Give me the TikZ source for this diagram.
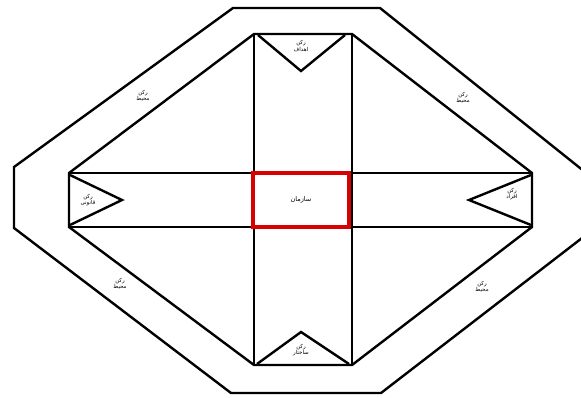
\documentclass[tikz,border=0pt]{standalone}
\usepackage{fontspec}
\newfontfamily\arabicfont[Script=Arabic]{DejaVu Sans}
\TeXXeTstate=1
\tikzset{
  edge/.style={line width=2.4pt, line join=miter},
  lbl/.style={font=\arabicfont\fontsize{5.5}{6.5}\selectfont, align=center, inner sep=0pt},
  centerbox/.style={draw=red!85!black, line width=3.6pt, fill=white}
}
\begin{document}
\begin{tikzpicture}[x=1pt,y=-1pt]
\useasboundingbox (0,0) rectangle (581,397);
\clip (0,0) rectangle (581,397);
% outer octagon
\coordinate (o1) at (233,8);
\coordinate (o2) at (380,8);
\coordinate (o3) at (595,180);
\coordinate (o4) at (595,228);
\coordinate (o5) at (381,393);
\coordinate (o6) at (231,393);
\coordinate (o7) at (14,228);
\coordinate (o8) at (14,167);
\draw[edge] (o1) -- (o2) -- (o3) -- (o4) -- (o5) -- (o6) -- (o7) -- (o8) -- cycle;
% inner cross corners
\coordinate (vtl) at (254,34);
\coordinate (vtr) at (352,34);
\coordinate (vbl) at (254,365);
\coordinate (vbr) at (352,365);
\coordinate (htl) at (69,173);
\coordinate (hbl) at (69,227);
\coordinate (htr) at (532,173);
\coordinate (hbr) at (532,227);
% outer diagonals and bar ends
\draw[edge] (vtl) -- (vtr) -- (htr) -- (hbr) -- (vbr) -- (vbl) -- (hbl) -- (htl) -- cycle;
% vertical bar
\draw[edge] (vtl) -- (vbl);
\draw[edge] (vtr) -- (vbr);
% horizontal bar
\draw[edge] (htl) -- (htr);
\draw[edge] (hbl) -- (hbr);
% triangles
\coordinate (tA) at (301,71);
\coordinate (bA) at (301,332);
\coordinate (lA) at (122,200);
\coordinate (rA) at (469,200);
\draw[edge] (258,35) -- (tA) -- (345,35);
\draw[edge] (257,364) -- (bA) -- (349,364);
\draw[edge] (70,175) -- (lA) -- (70,225);
\draw[edge] (531,175) -- (rA) -- (531,225);
% centre
\node[centerbox, minimum width=96pt, minimum height=54pt, lbl, font=\arabicfont\fontsize{6.5}{7.5}\selectfont] (org) at (301,200) {\beginR سازمان\endR};
% labels
\node[lbl] (top) at (301,46) {\beginR رکن\endR\\\beginR اهداف\endR};
\node[lbl] (bot) at (301,350) {\beginR رکن\endR\\\beginR ساختار\endR};
\node[lbl] (lft) at (88,200) {\beginR رکن\endR\\\beginR قانونی\endR};
\node[lbl] (rgt) at (512,194) {\beginR رکن\endR\\\beginR افراد\endR};
\node[lbl] (e1) at (143,96) {\beginR رکن\endR\\\beginR محیط\endR};
\node[lbl] (e2) at (463,98) {\beginR رکن\endR\\\beginR محیط\endR};
\node[lbl] (e3) at (120,284) {\beginR رکن\endR\\\beginR محیط\endR};
\node[lbl] (e4) at (482,287) {\beginR رکن\endR\\\beginR محیط\endR};
\end{tikzpicture}
\end{document}
